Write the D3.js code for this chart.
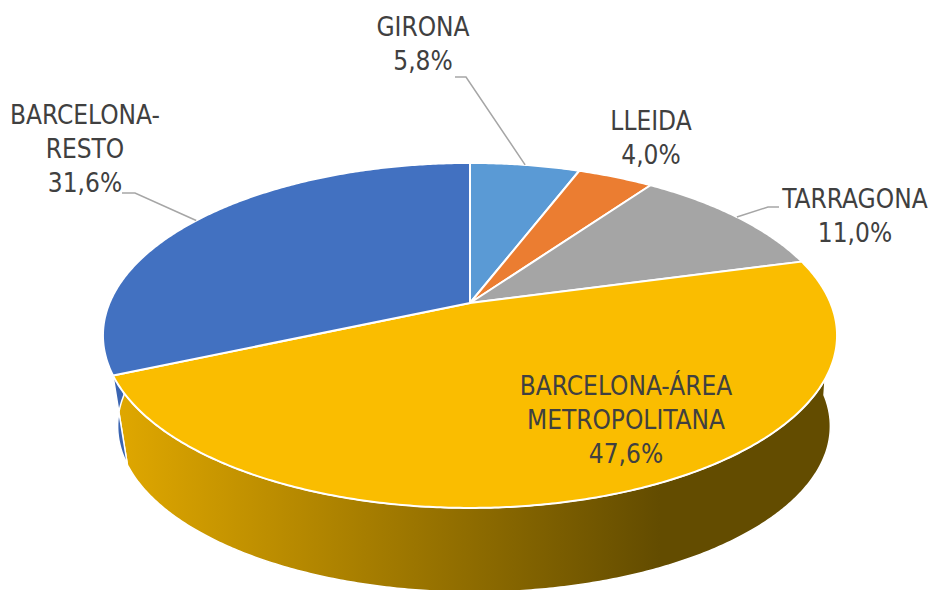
<!DOCTYPE html>
<html>
<head>
<meta charset="utf-8">
<script src="https://cdn.jsdelivr.net/npm/d3@7"></script>
<style>
  html, body { margin: 0; padding: 0; background: #ffffff; }
  svg { display: block; }
  text { font-family: "Liberation Sans Narrow", "DejaVu Sans Condensed", "Liberation Sans", sans-serif; fill: #404040; }
</style>
</head>
<body>
<svg id="chart" width="931" height="590"></svg>
<script>
// ---- data ----
const categories = ["GIRONA", "LLEIDA", "TARRAGONA", "BARCELONA-ÁREA METROPOLITANA", "BARCELONA-RESTO"];
const values = [5.8, 4.0, 11.0, 47.6, 31.6];
const valueLabels = ["5,8%", "4,0%", "11,0%", "47,6%", "31,6%"];
const nameLines = [["GIRONA"], ["LLEIDA"], ["TARRAGONA"], ["BARCELONA-ÁREA", "METROPOLITANA"], ["BARCELONA-", "RESTO"]];

// ---- styles / layout ----
const topColors = ["#5A9AD5", "#EB7D31", "#A5A5A5", "#FABD00", "#4271C1"];
const sideColors = ["#4A86BE", "#C9661F", "#8A8A8A", "url(#goldSide)", "#3A64B1"];
// label anchor (center x, first baseline y); leader: [startX, y, elbowX]
const labelLayout = [
  { x: 423, y: 36, leader: [455, 77, 466] },
  { x: 651, y: 130, leader: null },
  { x: 855, y: 208, leader: [779, 207, 768] },
  { x: 626, y: 395, leader: null },
  { x: 85, y: 124, leader: [122, 193, 135] }
];
const lineH = 34;

// perspective projection of the disc (top face and bottom face)
const topFace = { x0: 470, y0: 303, A: 360.5, B: 166.4, p: 0.188 };
const botFace = { x0: 474, y0: 395, A: 350, B: 160, p: 0.188 };
function proj(theta, f) {
  const u = Math.sin(theta), w = Math.cos(theta);
  const s = 1 / (1 + f.p * w);
  return [f.x0 + f.A * u * s, f.y0 - f.B * w * s];
}
function arcPts(a, b, f) {
  const pts = [];
  const n = Math.max(2, Math.ceil(Math.abs(b - a) / (Math.PI / 360)));
  for (let i = 0; i <= n; i++) pts.push(proj(a + (b - a) * i / n, f));
  return pts;
}

const svg = d3.select("#chart");
const defs = svg.append("defs");
const grad = defs.append("linearGradient").attr("id", "goldSide")
  .attr("gradientUnits", "userSpaceOnUse")
  .attr("x1", 120).attr("x2", 660).attr("y1", 0).attr("y2", 0);
grad.append("stop").attr("offset", 0).attr("stop-color", "#DFA700");
grad.append("stop").attr("offset", 1).attr("stop-color", "#634C00");

const pie = d3.pie().sort(null).value(d => d).startAngle(0).endAngle(2 * Math.PI);
const arcs = pie(values);
const line = d3.line();

// ---- sides (front half only) ----
const frontA = Math.PI / 2, frontB = 3 * Math.PI / 2;
const sideG = svg.append("g");
arcs.forEach((d, i) => {
  const a = Math.max(d.startAngle, frontA), b = Math.min(d.endAngle, frontB);
  if (b <= a) return;
  const tp = arcPts(a, b, topFace);
  const bp = arcPts(a, b, botFace).reverse();
  sideG.append("path")
    .attr("d", line(tp.concat(bp)) + "Z")
    .attr("fill", sideColors[i])
    .attr("stroke", "#ffffff").attr("stroke-width", 1.5).attr("stroke-linejoin", "round");
});

// ---- top face ----
const apex = [topFace.x0, topFace.y0];
const topG = svg.append("g");
arcs.forEach((d, i) => {
  const pts = [apex].concat(arcPts(d.startAngle, d.endAngle, topFace));
  topG.append("path")
    .attr("d", line(pts) + "Z")
    .attr("fill", topColors[i])
    .attr("stroke", "#ffffff").attr("stroke-width", 2).attr("stroke-linejoin", "round");
});

// ---- leader lines (end at the slice's mid-angle rim point) ----
const leadG = svg.append("g");
arcs.forEach((d, i) => {
  const L = labelLayout[i];
  if (!L.leader) return;
  const mid = (d.startAngle + d.endAngle) / 2;
  const end = proj(mid, topFace);
  const [sx, sy, ex] = L.leader;
  leadG.append("path")
    .attr("d", line([[sx, sy], [ex, sy], end]))
    .attr("fill", "none").attr("stroke", "#A6A6A6").attr("stroke-width", 1.5);
});

// ---- labels ----
const labG = svg.append("g");
arcs.forEach((d, i) => {
  const L = labelLayout[i];
  const t = labG.append("text").attr("text-anchor", "middle").attr("font-size", 26);
  const lines = nameLines[i].concat([valueLabels[i]]);
  lines.forEach((s, k) => {
    t.append("tspan").attr("x", L.x).attr("y", L.y + k * lineH).text(s);
  });
});
</script>
</body>
</html>
